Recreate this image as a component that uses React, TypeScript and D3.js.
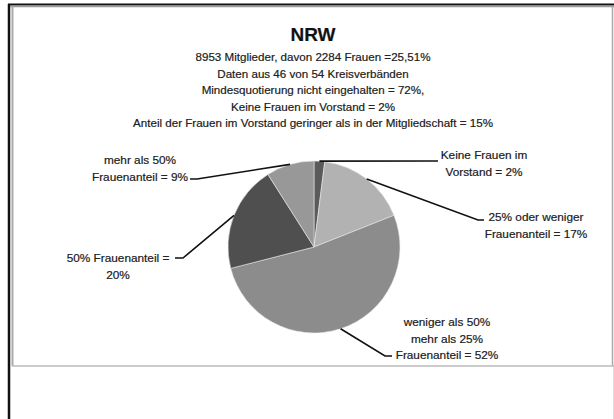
import React, { useEffect, useRef } from 'react';
import * as d3 from 'd3';

// Slices, clockwise from 12 o'clock
const categories = [
  'Keine Frauen im Vorstand',
  '25% oder weniger Frauenanteil',
  'weniger als 50% mehr als 25% Frauenanteil',
  '50% Frauenanteil',
  'mehr als 50% Frauenanteil',
];
const values = [2, 17, 52, 20, 9];
const colors = ['#5a5a5a', '#b2b2b2', '#8c8c8c', '#4f4f4f', '#989898'];

// label text lines per slice
const labelLines = [
  ['Keine Frauen im', 'Vorstand = 2%'],
  ['25% oder weniger', 'Frauenanteil = 17%'],
  ['weniger als 50%', 'mehr als 25%', 'Frauenanteil = 52%'],
  ['50% Frauenanteil =', '20%'],
  ['mehr als 50%', 'Frauenanteil = 9%'],
];

const title = 'NRW';
const subtitleLines = [
  '8953 Mitglieder, davon 2284 Frauen =25,51%',
  'Daten aus 46 von 54 Kreisverbänden',
  'Mindesquotierung nicht eingehalten = 72%,',
  'Keine Frauen im Vorstand = 2%',
  'Anteil der Frauen im Vorstand geringer als in der Mitgliedschaft = 15%',
];

const W = 614;
const H = 419;

const App = () => {
  const ref = useRef<SVGSVGElement>(null);

  useEffect(() => {
    const svg = d3.select(ref.current);
    svg.selectAll('*').remove();

    const font = '"Liberation Sans", Arial, sans-serif';

    // frame
    svg.append('rect').attr('width', W).attr('height', H).attr('fill', '#fff');
    svg.append('line').attr('x1', 8).attr('x2', W).attr('y1', 4.5).attr('y2', 4.5)
      .attr('stroke', '#111').attr('stroke-width', 2);
    svg.append('line').attr('x1', 9).attr('x2', 9).attr('y1', 4).attr('y2', H)
      .attr('stroke', '#111').attr('stroke-width', 2.5);
    svg.append('line').attr('x1', 10).attr('x2', W).attr('y1', 6.5).attr('y2', 6.5)
      .attr('stroke', '#999').attr('stroke-width', 1.5);
    svg.append('line').attr('x1', 12.5).attr('x2', 12.5).attr('y1', 6).attr('y2', 366)
      .attr('stroke', '#aaa').attr('stroke-width', 2);
    svg.append('line').attr('x1', 612.5).attr('x2', 612.5).attr('y1', 6).attr('y2', 366)
      .attr('stroke', '#aaa').attr('stroke-width', 1.5);
    svg.append('line').attr('x1', 613.5).attr('x2', 613.5).attr('y1', 366).attr('y2', H)
      .attr('stroke', '#ddd').attr('stroke-width', 1);
    svg.append('line').attr('x1', 12).attr('x2', W).attr('y1', 366).attr('y2', 366)
      .attr('stroke', '#bbb').attr('stroke-width', 1.5);

    const txt = (sel: any, size: number) =>
      sel.attr('font-family', font).attr('font-size', size)
        .attr('fill', '#111').attr('stroke', '#333').attr('stroke-width', 0.2);

    // title
    txt(svg.append('text').attr('x', 313).attr('y', 41).attr('text-anchor', 'middle'), 19)
      .attr('font-weight', 'bold').text(title);
    svg.selectAll('.sub').data(subtitleLines).enter().append('text')
      .attr('class', 'sub')
      .attr('x', 313).attr('y', (d, i) => 61 + i * 16.6)
      .attr('text-anchor', 'middle')
      .call((s: any) => txt(s, 11.6))
      .text(d => d);

    // pie
    const cx = 314, cy = 247, r = 86;
    const pie = d3.pie<number>().sort(null).value(d => d)
      .startAngle(0).endAngle(2 * Math.PI);
    const arcs = pie(values);
    const arc = d3.arc<d3.PieArcDatum<number>>().innerRadius(0).outerRadius(r);
    const g = svg.append('g').attr('transform', `translate(${cx},${cy})`);
    g.selectAll('path').data(arcs).enter().append('path')
      .attr('d', arc)
      .attr('fill', (d, i) => colors[i])
      .attr('stroke', '#e8e8e8').attr('stroke-width', 0.6);

    // label layout: elbow & end of leader, text anchor point
    const labelLayout = [
      { elbow: [438, 161], end: [438, 161], tx: 484, ty: 159 },
      { elbow: [478, 220], end: [484, 220], tx: 536, ty: 221 },
      { elbow: [385, 356], end: [392, 356], tx: 447, ty: 326 },
      { elbow: [183, 258], end: [175, 258], tx: 118, ty: 262 },
      { elbow: [197, 179], end: [190, 179], tx: 140, ty: 164 },
    ];

    arcs.forEach((a, i) => {
      const mid = (a.startAngle + a.endAngle) / 2;
      const sx = cx + r * Math.sin(mid);
      const sy = cy - r * Math.cos(mid);
      const L = labelLayout[i];
      svg.append('polyline')
        .attr('points', `${sx},${sy} ${L.elbow[0]},${L.elbow[1]} ${L.end[0]},${L.end[1]}`)
        .attr('fill', 'none').attr('stroke', '#111').attr('stroke-width', 1.6);
      labelLines[i].forEach((t, j) => {
        txt(svg.append('text').attr('x', L.tx).attr('y', L.ty + j * 16.5)
          .attr('text-anchor', 'middle'), 11.8).text(t);
      });
    });
  }, []);

  return (
    <svg ref={ref} width={W} height={H}
      style={{ position: 'absolute', left: 0, top: 0, display: 'block' }} />
  );
};

export default App;
